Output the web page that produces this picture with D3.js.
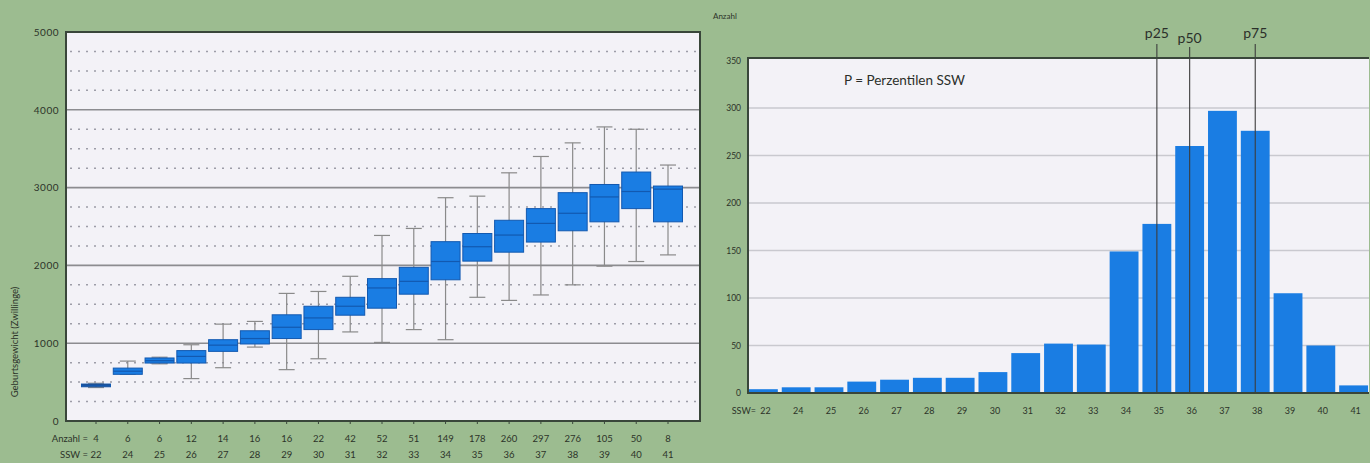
<!DOCTYPE html>
<html>
<head>
<meta charset="utf-8">
<script src="https://cdn.jsdelivr.net/npm/d3@7"></script>
<style>
  html, body { margin: 0; padding: 0; background: #9cbc90; }
  svg { display: block; font-family: Lato, "Open Sans", sans-serif; }
</style>
</head>
<body>
<svg id="chart" width="1370" height="463"></svg>
<script>
// ---------- data ----------
const ssw = [22, 24, 25, 26, 27, 28, 29, 30, 31, 32, 33, 34, 35, 36, 37, 38, 39, 40, 41];
const anzahl = [4, 6, 6, 12, 14, 16, 16, 22, 42, 52, 51, 149, 178, 260, 297, 276, 105, 50, 8];
const whiskerLow  = [430, 600, 735, 545, 685, 950, 660, 800, 1145, 1010, 1175, 1045, 1590, 1550, 1620, 1750, 1990, 2050, 2135];
const q1          = [440, 600, 745, 745, 895, 990, 1060, 1175, 1360, 1450, 1630, 1815, 2055, 2170, 2300, 2445, 2560, 2730, 2560];
const median      = [458, 640, 775, 830, 975, 1060, 1205, 1325, 1475, 1710, 1795, 2050, 2240, 2390, 2540, 2670, 2880, 2950, 2980];
const q3          = [475, 680, 810, 905, 1045, 1160, 1365, 1475, 1590, 1830, 1975, 2305, 2410, 2580, 2730, 2935, 3040, 3200, 3020];
const whiskerHigh = [485, 770, 820, 980, 1245, 1280, 1640, 1665, 1860, 2385, 2475, 2870, 2890, 3190, 3400, 3575, 3780, 3750, 3290];
const weightTicks = [0, 1000, 2000, 3000, 4000, 5000];
const countTicks = [0, 50, 100, 150, 200, 250, 300, 350];
const percentiles = [{label: "p25", ssw: 35}, {label: "p50", ssw: 36}, {label: "p75", ssw: 38}];

const svg = d3.select("#chart");
const blue = "#1a7de3", blueDark = "#1259b0", frameCol = "#39463a", plotBg = "#f3f2f7", textCol = "#2c3329";

// ---------- left: box plot ----------
const L = {x0: 66, x1: 700, y0: 32, y1: 421};
const yL = d3.scaleLinear().domain([0, 5000]).range([L.y1, L.y0]);
const xL = d3.scalePoint().domain(ssw.map(String)).range([96, 668]);
const boxW = 29;

svg.append("rect").attr("x", L.x0).attr("y", L.y0).attr("width", L.x1 - L.x0).attr("height", L.y1 - L.y0).attr("fill", plotBg);

// dotted minor grid
const minor = d3.range(250, 5000, 250).filter(v => v % 1000 !== 0);
svg.append("g").selectAll("line").data(minor).join("line")
  .attr("x1", L.x0 + 4).attr("x2", L.x1 - 4)
  .attr("y1", d => yL(d)).attr("y2", d => yL(d))
  .attr("stroke", "#9d9da8").attr("stroke-width", 1.5).attr("stroke-dasharray", "2,6");
// solid major grid
svg.append("g").selectAll("line").data(weightTicks.filter(v => v > 0 && v < 5000)).join("line")
  .attr("x1", L.x0).attr("x2", L.x1)
  .attr("y1", d => yL(d)).attr("y2", d => yL(d))
  .attr("stroke", "#8c8c90").attr("stroke-width", 1.6);

// whiskers
const gW = svg.append("g").attr("stroke", "#8a8a8a").attr("stroke-width", 1.2);
ssw.forEach((s, i) => {
  const cx = xL(String(s));
  gW.append("line").attr("x1", cx).attr("x2", cx).attr("y1", yL(whiskerLow[i])).attr("y2", yL(whiskerHigh[i]));
  [whiskerLow[i], whiskerHigh[i]].forEach(v => {
    gW.append("line").attr("x1", cx - 8).attr("x2", cx + 8).attr("y1", yL(v)).attr("y2", yL(v));
  });
});
// boxes
const gB = svg.append("g");
ssw.forEach((s, i) => {
  const cx = xL(String(s));
  const h = Math.max(yL(q1[i]) - yL(q3[i]), 2);
  gB.append("rect").attr("x", cx - boxW / 2).attr("y", yL(q3[i])).attr("width", boxW).attr("height", h)
    .attr("fill", i === 0 ? "#2a3f66" : blue).attr("stroke", blueDark).attr("stroke-width", 1);
  gB.append("line").attr("x1", cx - boxW / 2).attr("x2", cx + boxW / 2)
    .attr("y1", yL(median[i])).attr("y2", yL(median[i]))
    .attr("stroke", blueDark).attr("stroke-width", 1.2);
});

// frame
svg.append("rect").attr("x", L.x0).attr("y", L.y0).attr("width", L.x1 - L.x0).attr("height", L.y1 - L.y0)
  .attr("fill", "none").attr("stroke", frameCol).attr("stroke-width", 2);
// bottom ticks
svg.append("g").selectAll("line").data(ssw).join("line")
  .attr("x1", d => xL(String(d))).attr("x2", d => xL(String(d)))
  .attr("y1", L.y1).attr("y2", L.y1 + 3).attr("stroke", frameCol).attr("stroke-width", 1);

// y axis
const axL = svg.append("g").attr("transform", `translate(${L.x0 - 7},0)`)
  .call(d3.axisLeft(yL).tickValues(weightTicks).tickFormat(d3.format("d")).tickSize(0).tickPadding(0));
axL.select(".domain").remove();
axL.selectAll("text").attr("font-size", 10).attr("fill", textCol).attr("font-family", "Lato").attr("letter-spacing", "0.5px");

svg.append("text").attr("transform", "translate(18,342) rotate(-90)").attr("text-anchor", "middle")
  .attr("font-size", 9.5).attr("fill", textCol).text("Geburtsgewicht (Zwillinge)");

// x labels rows
const rowA = svg.append("g").attr("font-size", 9.5).attr("fill", textCol).attr("text-anchor", "middle");
ssw.forEach((s, i) => {
  rowA.append("text").attr("x", xL(String(s))).attr("y", 442).text(anzahl[i]);
  rowA.append("text").attr("x", xL(String(s))).attr("y", 458).text(s);
});
svg.append("text").attr("x", 88).attr("y", 442).attr("text-anchor", "end").attr("font-size", 9.5).attr("fill", textCol).text("Anzahl =");
svg.append("text").attr("x", 88).attr("y", 458).attr("text-anchor", "end").attr("font-size", 9.5).attr("fill", textCol).text("SSW =");

// ---------- right: histogram ----------
const R = {x0: 748, x1: 1369, y0: 58, y1: 393};
const yR = d3.scaleLinear().domain([0, 350]).range([R.y1, 60.5]);
const xR = d3.scaleBand().domain(ssw.map(String)).range([747, 1370]).paddingInner(0.12).paddingOuter(0.06);

svg.append("rect").attr("x", R.x0).attr("y", R.y0).attr("width", R.x1 - R.x0).attr("height", R.y1 - R.y0).attr("fill", plotBg);
svg.append("g").selectAll("line").data(countTicks.filter(v => v > 0 && v < 350)).join("line")
  .attr("x1", R.x0).attr("x2", R.x1).attr("y1", d => yR(d)).attr("y2", d => yR(d))
  .attr("stroke", "#c9c9cf").attr("stroke-width", 1.5);

svg.append("g").selectAll("rect").data(ssw).join("rect")
  .attr("x", d => xR(String(d))).attr("width", xR.bandwidth())
  .attr("y", (d, i) => yR(anzahl[i])).attr("height", (d, i) => yR(0) - yR(anzahl[i]))
  .attr("fill", blue);

// percentile lines
percentiles.forEach((p, i) => {
  const cx = xR(String(p.ssw)) + xR.bandwidth() / 2;
  const top = p.label === "p50" ? 47 : 44;
  svg.append("line").attr("x1", cx).attr("x2", cx).attr("y1", top).attr("y2", R.y1)
    .attr("stroke", "#3d3d3d").attr("stroke-width", 1.1);
  svg.append("text").attr("x", cx).attr("y", p.label === "p50" ? 43 : 38).attr("text-anchor", "middle")
    .attr("font-size", 14).attr("fill", "#2b2f2a").text(p.label);
});

// frame (left, top, bottom)
svg.append("path").attr("d", `M${R.x1},${R.y0} L${R.x0},${R.y0} L${R.x0},${R.y1} L${R.x1},${R.y1}`)
  .attr("fill", "none").attr("stroke", frameCol).attr("stroke-width", 2);

const axR = svg.append("g").attr("transform", `translate(${R.x0 - 7},0)`)
  .call(d3.axisLeft(yR).tickValues(countTicks).tickSize(0).tickPadding(0));
axR.select(".domain").remove();
axR.selectAll("text").attr("font-size", 8.5).attr("fill", textCol).attr("font-family", "Lato");

svg.append("text").attr("x", 713).attr("y", 19).attr("font-size", 8).attr("fill", textCol).text("Anzahl");
svg.append("text").attr("x", 844).attr("y", 85).attr("font-size", 13.5).attr("fill", "#2b2f2a").text("P = Perzentilen SSW");

const rowR = svg.append("g").attr("font-size", 9).attr("fill", textCol).attr("text-anchor", "middle");
ssw.forEach(s => {
  rowR.append("text").attr("x", xR(String(s)) + xR.bandwidth() / 2 + 2).attr("y", 414).text(s);
});
svg.append("text").attr("x", 756).attr("y", 414).attr("text-anchor", "end").attr("font-size", 9).attr("fill", textCol).text("SSW=");
</script>
</body>
</html>
